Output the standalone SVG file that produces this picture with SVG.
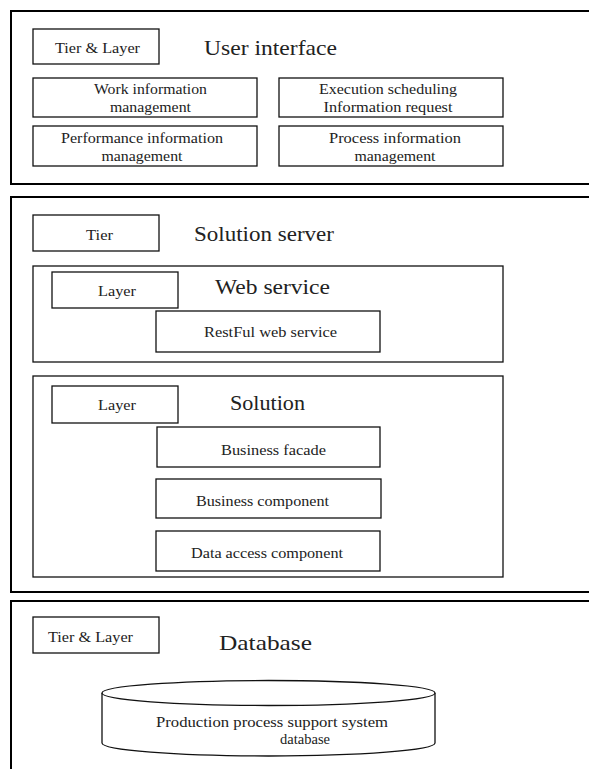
<svg xmlns="http://www.w3.org/2000/svg" width="589" height="769" viewBox="0 0 589 769">
<style>
.outer{fill:#fff;stroke:#000;stroke-width:2}
.box{fill:#fff;stroke:#111;stroke-width:1.3}
text{font-family:"Liberation Serif","Times New Roman",serif;fill:#222;font-weight:normal}
.t{font-size:22px}
.l{font-size:15px;text-anchor:middle}
</style>
<rect width="589" height="769" fill="#fff"/>
<g id="tier-ui">
<rect class="outer" x="11" y="11" width="600" height="173"/>
<rect class="box" x="33" y="29" width="126" height="35"/>
<text class="l" x="97.5" y="53" textLength="85" lengthAdjust="spacingAndGlyphs">Tier &amp; Layer</text>
<text class="t" x="204" y="55" textLength="133" lengthAdjust="spacingAndGlyphs">User interface</text>
</g>
<g id="work-info">
<rect class="box" x="33" y="78" width="224" height="39"/>
<text class="l" x="150.5" y="94" textLength="113" lengthAdjust="spacingAndGlyphs">Work information</text>
<text class="l" x="150.5" y="112" textLength="81" lengthAdjust="spacingAndGlyphs">management</text>
</g>
<g id="exec-sched">
<rect class="box" x="279" y="78" width="224" height="39"/>
<text class="l" x="388" y="94" textLength="138" lengthAdjust="spacingAndGlyphs">Execution scheduling</text>
<text class="l" x="388" y="112" textLength="129" lengthAdjust="spacingAndGlyphs">Information request</text>
</g>
<g id="perf-info">
<rect class="box" x="33" y="126" width="224" height="40"/>
<text class="l" x="142" y="143" textLength="162" lengthAdjust="spacingAndGlyphs">Performance information</text>
<text class="l" x="142" y="161" textLength="81" lengthAdjust="spacingAndGlyphs">management</text>
</g>
<g id="proc-info">
<rect class="box" x="279" y="126" width="224" height="40"/>
<text class="l" x="395" y="143" textLength="132" lengthAdjust="spacingAndGlyphs">Process information</text>
<text class="l" x="395" y="161" textLength="81" lengthAdjust="spacingAndGlyphs">management</text>
</g>
<g id="tier-server">
<rect class="outer" x="11" y="197" width="600" height="395"/>
<rect class="box" x="33" y="215" width="126" height="36"/>
<text class="l" x="99.5" y="240" textLength="27" lengthAdjust="spacingAndGlyphs">Tier</text>
<text class="t" x="194" y="241" textLength="140" lengthAdjust="spacingAndGlyphs">Solution server</text>
</g>
<g id="web-service">
<rect class="box" x="33" y="266" width="470" height="96"/>
<rect class="box" x="52" y="272" width="126" height="36"/>
<text class="l" x="117" y="296" textLength="38" lengthAdjust="spacingAndGlyphs">Layer</text>
<text class="t" x="215" y="294" textLength="115" lengthAdjust="spacingAndGlyphs">Web service</text>
</g>
<g id="restful">
<rect class="box" x="156" y="311" width="224" height="41"/>
<text class="l" x="270.5" y="337" textLength="133" lengthAdjust="spacingAndGlyphs">RestFul web service</text>
</g>
<g id="solution">
<rect class="box" x="33" y="376" width="470" height="201"/>
<rect class="box" x="52" y="386" width="126" height="37"/>
<text class="l" x="117" y="410" textLength="38" lengthAdjust="spacingAndGlyphs">Layer</text>
<text class="t" x="230" y="410" textLength="75" lengthAdjust="spacingAndGlyphs">Solution</text>
</g>
<g id="business-facade">
<rect class="box" x="157" y="427" width="223" height="40"/>
<text class="l" x="273.5" y="455" textLength="105" lengthAdjust="spacingAndGlyphs">Business facade</text>
</g>
<g id="business-component">
<rect class="box" x="156" y="479" width="225" height="39"/>
<text class="l" x="262.5" y="506" textLength="133" lengthAdjust="spacingAndGlyphs">Business component</text>
</g>
<g id="data-access">
<rect class="box" x="156" y="531" width="224" height="40"/>
<text class="l" x="267" y="558" textLength="152" lengthAdjust="spacingAndGlyphs">Data access component</text>
</g>
<g id="tier-db">
<rect class="outer" x="11" y="601" width="600" height="200"/>
<rect class="box" x="33" y="617" width="126" height="36"/>
<text class="l" x="90.5" y="642" textLength="85" lengthAdjust="spacingAndGlyphs">Tier &amp; Layer</text>
<text class="t" x="219" y="650" textLength="93" lengthAdjust="spacingAndGlyphs">Database</text>
</g>
<g id="database">
<path class="box" d="M102,693 L102,743 A166.5,13 0 0 0 435,743 L435,693"/>
<ellipse class="box" cx="268.5" cy="693" rx="166.5" ry="12.5"/>
<text class="l" x="272" y="727" textLength="232" lengthAdjust="spacingAndGlyphs">Production process support system</text>
<text class="l" x="305" y="744" textLength="50" lengthAdjust="spacingAndGlyphs">database</text>
</g>
<g id="connectors"></g>
</svg>
